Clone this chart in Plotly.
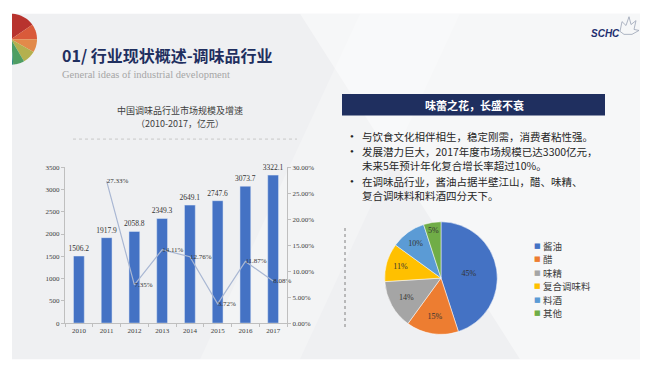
import math
import plotly.graph_objects as go

W, H = 654, 378

# ---- data ----
years = ["2010", "2011", "2012", "2013", "2014", "2015", "2016", "2017"]
market_size = [1506.2, 1917.9, 2058.8, 2349.3, 2649.1, 2747.6, 3073.7, 3322.1]
growth_years = ["2011", "2012", "2013", "2014", "2015", "2016", "2017"]
growth_rate = [0.2733, 0.0735, 0.1411, 0.1276, 0.0372, 0.1187, 0.0808]

pie_labels = ["酱油", "醋", "味精", "复合调味料", "料酒", "其他"]
pie_values = [45, 15, 14, 11, 10, 5]
pie_colors = ["#4472c4", "#ed7d31", "#a5a5a5", "#ffc000", "#5b9bd5", "#70ad47"]

bullet_lines = [
    "与饮食文化相伴相生，稳定刚需，消费者粘性强。",
    "发展潜力巨大，2017年度市场规模已达3300亿元，",
    "未来5年预计年化复合增长率超过10%。",
    "在调味品行业，酱油占据半壁江山，醋、味精、",
    "复合调味料和料酒四分天下。",
]
bullet_flags = [True, True, False, True, False]

CJK = "Noto Sans CJK SC"
SERIF = "Liberation Serif"


def fx(px):
    return px / W


def fy(py):
    return 1 - py / H


fig = go.Figure()

fig.add_trace(go.Bar(
    x=years, y=market_size, width=0.39,
    marker=dict(color="#4472c4"),
    text=[f"{v:.1f}" for v in market_size], textposition="outside", constraintext="none",
    textfont=dict(family=SERIF, size=7.5, color="#333333"),
    cliponaxis=False, showlegend=False,
))
fig.add_trace(go.Scatter(
    x=growth_years, y=growth_rate, yaxis="y2", mode="lines+text",
    line=dict(color="#a9b7d3", width=1.2),
    text=[f"{v*100:.2f}%" for v in growth_rate], textposition="middle right",
    textfont=dict(family=SERIF, size=7, color="#333333"),
    cliponaxis=False, showlegend=False,
))

# pie
cx, cy, r = 441, 280, 57.5
fig.add_trace(go.Pie(
    labels=pie_labels, values=pie_values, sort=False, direction="clockwise",
    rotation=0, marker=dict(colors=pie_colors, line=dict(color="white", width=0.5)),
    texttemplate="%{value}%", textposition="inside", insidetextorientation="horizontal",
    textfont=dict(family=SERIF, size=8, color="#333333"),
    domain=dict(x=[fx(cx - r), fx(cx + r)], y=[fy(cy + r), fy(cy - r)]),
    hole=0, showlegend=False,
))

axis_common = dict(showgrid=False, zeroline=False, showline=True, linecolor="#bfbfbf",
                   linewidth=1, ticks="outside", ticklen=3, tickcolor="#bfbfbf",
                   tickfont=dict(family=SERIF, size=7, color="#404040"))

fig.update_layout(
    width=W, height=H, margin=dict(l=0, r=0, t=0, b=0),
    paper_bgcolor="white", plot_bgcolor="rgba(0,0,0,0)",
    xaxis=dict(domain=[fx(65), fx(287)], type="category", tickson="boundaries", **axis_common),
    yaxis=dict(domain=[fy(326), fy(166.7)], range=[0, 3500], dtick=500, **axis_common),
    yaxis2=dict(overlaying="y", side="right", range=[0, 0.30], dtick=0.05,
                tickformat=".2%", anchor="x", **axis_common),
    showlegend=False,
)

shapes = []
# slide background
shapes.append(dict(type="rect", xref="paper", yref="paper", x0=fx(12), x1=fx(640), y0=fy(363), y1=fy(10),
                   fillcolor="#eff0f2", line=dict(width=0), layer="below"))
poly = [(300, 10), (640, 10), (640, 363), (520, 363)]
path = "M " + " L ".join(f"{fx(a)},{fy(b)}" for a, b in poly) + " Z"
shapes.append(dict(type="path", xref="paper", yref="paper", path=path,
                   fillcolor="rgba(255,255,255,0.45)", line=dict(width=0), layer="below"))
poly = [(360, 10), (460, 10), (300, 363), (200, 363)]
path = "M " + " L ".join(f"{fx(a)},{fy(b)}" for a, b in poly) + " Z"
shapes.append(dict(type="path", xref="paper", yref="paper", path=path,
                   fillcolor="rgba(255,255,255,0.25)", line=dict(width=0), layer="below"))

# colour-wheel logo (decoration)
lcx, lcy, lr = 11, 36, 26
wedges = [(90, 35, "#b8332e"), (35, 0, "#d95a3a"), (0, -30, "#e28a4a"), (-30, -60, "#b4b04e"),
          (-60, -85, "#4f9e63"), (-85, -120, "#2f8a86"), (-120, -270, "#3b6e9e")]
for a0, a1, col in wedges:
    pts = [(lcx, lcy)]
    n = 12
    for i in range(n + 1):
        a = math.radians(a0 + (a1 - a0) * i / n)
        pts.append((lcx + lr * math.cos(a), lcy - lr * math.sin(a)))
    p = "M " + " L ".join(f"{fx(a)},{fy(b)}" for a, b in pts) + " Z"
    shapes.append(dict(type="path", xref="paper", yref="paper", path=p, fillcolor=col,
                       line=dict(width=0), layer="below"))
shapes.append(dict(type="rect", xref="paper", yref="paper", x0=fx(-2), x1=fx(12), y0=0, y1=1,
                   fillcolor="white", line=dict(width=0), layer="below"))

# chart title separator
shapes.append(dict(type="line", xref="paper", yref="paper", x0=fx(73), x1=fx(297), y0=fy(138), y1=fy(138),
                   line=dict(color="#c8c8c8", width=1, dash="dot")))
# header box
shapes.append(dict(type="rect", xref="paper", yref="paper", x0=fx(342), x1=fx(605), y0=fy(114), y1=fy(92),
                   fillcolor="#1f2f5f", line=dict(width=0)))
# vertical dotted line
shapes.append(dict(type="line", xref="paper", yref="paper", x0=fx(345), x1=fx(345), y0=fy(330), y1=fy(228),
                   line=dict(color="#808080", width=1, dash="dot")))
# SCHC leaf outline (decoration)
leaf = [(620, 28), (622, 18), (626, 22), (629, 13), (631, 21), (636, 17), (634, 26), (639, 27), (632, 31), (624, 31)]
p = "M " + " L ".join(f"{fx(a)},{fy(b)}" for a, b in leaf) + " Z"
shapes.append(dict(type="path", xref="paper", yref="paper", path=p, fillcolor="rgba(0,0,0,0)",
                   line=dict(color="#9aa3b5", width=0.8)))

ann = []
ann.append(dict(x=fx(61), y=fy(52), xref="paper", yref="paper", xanchor="left", yanchor="middle",
                text="<b>01/ 行业现状概述-调味品行业</b>", showarrow=False, borderpad=0,
                font=dict(family=CJK, size=16, color="#1f2f5f")))
ann.append(dict(x=fx(61), y=fy(72), xref="paper", yref="paper", xanchor="left", yanchor="middle",
                text="General ideas of industrial development", showarrow=False, borderpad=0,
                font=dict(family=SERIF, size=10.5, color="#a6a6a6")))
ann.append(dict(x=fx(605), y=fy(30), xref="paper", yref="paper", xanchor="center", yanchor="middle",
                text="<b><i>SCHC</i></b>", showarrow=False,
                font=dict(family="Liberation Sans", size=10, color="#1f2f6f")))
ann.append(dict(x=fx(180), y=fy(109), xref="paper", yref="paper", xanchor="center", yanchor="middle",
                text="中国调味品行业市场规模及增速", showarrow=False, borderpad=0,
                font=dict(family=CJK, size=9, color="#404040")))
ann.append(dict(x=fx(180), y=fy(122.5), xref="paper", yref="paper", xanchor="center", yanchor="middle",
                text="（2010-2017，亿元）", showarrow=False, borderpad=0,
                font=dict(family=CJK, size=9, color="#404040")))
ann.append(dict(x=fx(474), y=fy(103), xref="paper", yref="paper", xanchor="center", yanchor="middle",
                text="<b>味蕾之花，长盛不衰</b>", showarrow=False,
                font=dict(family=CJK, size=11, color="white")))

line_y = [135, 150.5, 165, 181, 195.5]
for t, yy, b in zip(bullet_lines, line_y, bullet_flags):
    ann.append(dict(x=fx(361), y=fy(yy), xref="paper", yref="paper", xanchor="left", yanchor="middle",
                    text=t, showarrow=False, borderpad=0,
                    font=dict(family=CJK, size=10.5, color="#262626")))
    if b:
        ann.append(dict(x=fx(352), y=fy(yy), xref="paper", yref="paper", xanchor="center", yanchor="middle",
                        text="•", showarrow=False, borderpad=0,
                        font=dict(family=SERIF, size=11, color="#262626")))

# pie legend (as text items)
leg_y0, leg_dy = 247, 13.8
for i, (lab, col) in enumerate(zip(pie_labels, pie_colors)):
    yy = leg_y0 + i * leg_dy
    ann.append(dict(x=fx(537), y=fy(yy), xref="paper", yref="paper", xanchor="center", yanchor="middle",
                    text="■", showarrow=False, borderpad=0,
                    font=dict(family="DejaVu Sans", size=7, color=col)))
    ann.append(dict(x=fx(542), y=fy(yy), xref="paper", yref="paper", xanchor="left", yanchor="middle",
                    text=lab, showarrow=False, borderpad=0,
                    font=dict(family=CJK, size=9.5, color="#404040")))

fig.update_layout(shapes=shapes, annotations=ann)
fig.write_html("out.html", config={"displayModeBar": False},
               post_script="document.body.style.margin='0px';document.body.style.overflow='hidden';")
